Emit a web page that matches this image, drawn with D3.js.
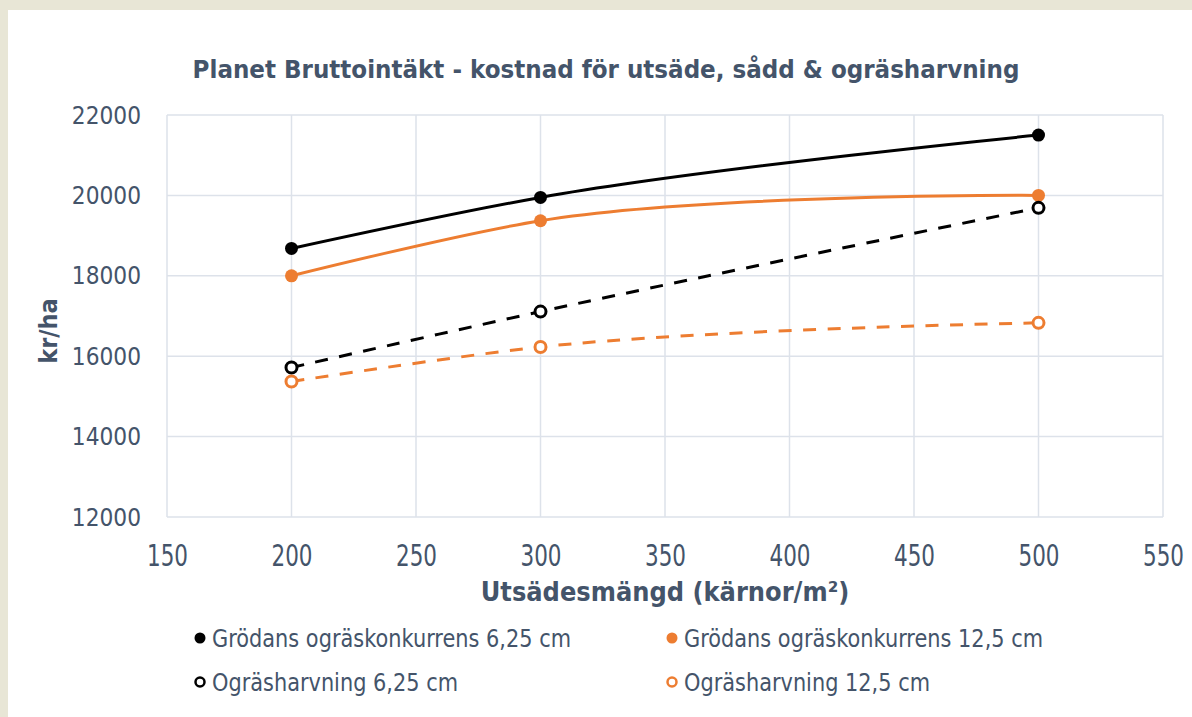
<!DOCTYPE html>
<html>
<head>
<meta charset="utf-8">
<script src="https://cdn.jsdelivr.net/npm/d3@7"></script>
<style>
  body { margin: 0; background: #e8e6d6; }
  svg { display: block; }
  text { font-family: "DejaVu Sans", Verdana, sans-serif; fill: #44546a; }
</style>
</head>
<body>
<div id="chart"></div>
<script>
var xs = [200, 300, 500]
var solidBlack = [18680, 19950, 21500]
var solidOrange = [18000, 19370, 20000]
var dashBlack = [15720, 17110, 19690]
var dashOrange = [15370, 16230, 16830]
var xTicks = [150, 200, 250, 300, 350, 400, 450, 500, 550]
var yTicks = [12000, 14000, 16000, 18000, 20000, 22000]

var series = [
  {name: 'Grödans ogräskonkurrens 6,25 cm', vals: solidBlack, color: '#000000', dash: null, open: false},
  {name: 'Grödans ogräskonkurrens 12,5 cm', vals: solidOrange, color: '#ed7d31', dash: null, open: false},
  {name: 'Ogräsharvning 6,25 cm', vals: dashBlack, color: '#000000', dash: '13,11.5', open: true},
  {name: 'Ogräsharvning 12,5 cm', vals: dashOrange, color: '#ed7d31', dash: '13,11.5', open: true}
]

var W = 1192, H = 717
var svg = d3.select('#chart').append('svg').attr('width', W).attr('height', H)

svg.append('rect').attr('x', 8).attr('y', 10).attr('width', W - 8).attr('height', H - 10).attr('fill', '#fff')

var m = {left: 167, right: 1163, top: 115, bottom: 517}
var x = d3.scaleLinear().domain([150, 550]).range([m.left, m.right])
var y = d3.scaleLinear().domain([12000, 22000]).range([m.bottom, m.top])

// squeeze text horizontally, the original font is narrower than DejaVu
function fit(sel, k){
  sel.each(function(){
    var w = this.getComputedTextLength()
    d3.select(this).attr('textLength', w * k).attr('lengthAdjust', 'spacingAndGlyphs')
  })
}

// grid
svg.append('g').selectAll('line').data(xTicks).join('line')
  .attr('x1', d => x(d)).attr('x2', d => x(d)).attr('y1', m.top).attr('y2', m.bottom)
  .attr('stroke', '#dde2ea').attr('stroke-width', 1.5)
svg.append('g').selectAll('line').data(yTicks).join('line')
  .attr('x1', m.left).attr('x2', m.right).attr('y1', d => y(d)).attr('y2', d => y(d))
  .attr('stroke', '#dde2ea').attr('stroke-width', 1.5)

// axes
var xAxis = svg.append('g').attr('transform', 'translate(0,' + m.bottom + ')')
  .call(d3.axisBottom(x).tickValues(xTicks).tickSize(0).tickFormat(d3.format('d')))
var yAxis = svg.append('g').attr('transform', 'translate(' + m.left + ',0)')
  .call(d3.axisLeft(y).tickValues(yTicks).tickSize(0).tickPadding(26).tickFormat(d3.format('d')))
svg.selectAll('.domain').remove()
svg.selectAll('.tick text').attr('font-size', 25).attr('fill', '#44546a')
  .style('font-family', '"DejaVu Sans", Verdana, sans-serif')
xAxis.selectAll('.tick text').attr('y', 0).attr('dy', 0)
  .attr('transform', 'translate(0,49) scale(1,1.18)')
fit(xAxis.selectAll('.tick text'), 0.86)
fit(yAxis.selectAll('.tick text'), 0.87)

// title and axis titles
var title = svg.append('text').attr('x', 606).attr('y', 78).attr('text-anchor', 'middle')
  .attr('font-size', 24).attr('font-weight', 'bold')
  .text('Planet Bruttointäkt - kostnad för utsäde, sådd & ogräsharvning')
fit(title, 0.96)
var xTitle = svg.append('text').attr('x', 665).attr('y', 601).attr('text-anchor', 'middle')
  .attr('font-size', 26).attr('font-weight', 'bold')
  .text('Utsädesmängd (kärnor/m²)')
fit(xTitle, 0.93)
var yTitle = svg.append('text').attr('transform', 'translate(57,331) rotate(-90)').attr('text-anchor', 'middle')
  .attr('font-size', 25).attr('font-weight', 'bold')
  .text('kr/ha')
fit(yTitle, 0.9)

var line = d3.line().x(d => x(d[0])).y(d => y(d[1])).curve(d3.curveCatmullRom.alpha(1))

series.forEach(function(s){
  var pts = xs.map((v, i) => [v, s.vals[i]])
  svg.append('path').attr('d', line(pts)).attr('fill', 'none')
    .attr('stroke', s.color).attr('stroke-width', 3).attr('stroke-dasharray', s.dash)
  svg.append('g').selectAll('circle').data(pts).join('circle')
    .attr('cx', d => x(d[0])).attr('cy', d => y(d[1]))
    .attr('r', s.open ? 5.5 : 6.5)
    .attr('fill', s.open ? '#fff' : s.color)
    .attr('stroke', s.color).attr('stroke-width', s.open ? 3 : 0)
})

// legend
var lx = [200, 672], ly = [638, 682]
series.forEach(function(s, i){
  var cx = lx[i % 2], cy = ly[Math.floor(i / 2)]
  svg.append('circle').attr('cx', cx).attr('cy', cy)
    .attr('r', s.open ? 4.5 : 5.5)
    .attr('fill', s.open ? '#fff' : s.color)
    .attr('stroke', s.color).attr('stroke-width', s.open ? 2.5 : 0)
  var t = svg.append('text').attr('x', cx + 12).attr('y', cy + 9).attr('font-size', 25).text(s.name)
  fit(t, 0.835)
})
</script>
</body>
</html>
